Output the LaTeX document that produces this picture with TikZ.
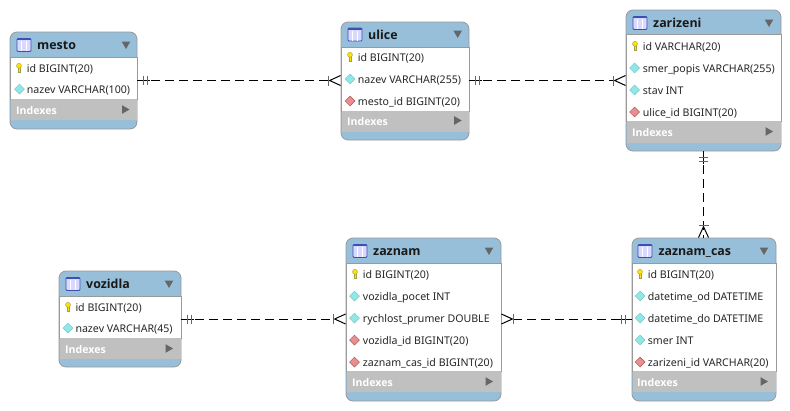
\documentclass[tikz,border=0pt]{standalone}
\usepackage{fontspec}
\setmainfont{Noto Sans}
\newfontfamily\boldface{Open Sans}
\usetikzlibrary{shapes,shapes.geometric}
\definecolor{hdblue}{HTML}{97BFD9}
\definecolor{idxgray}{HTML}{C0C0C0}
\definecolor{tblline}{HTML}{9A9A9A}
\definecolor{markgray}{HTML}{666666}
\definecolor{colcyan}{HTML}{8FE8E8}
\definecolor{colred}{HTML}{E88F8F}
\definecolor{iconblue}{HTML}{3C50B4}
\tikzset{
  tbl/.style={draw=tblline,fill=hdblue,rounded corners=7pt,line width=.8pt,inner sep=0pt},
  rowsbox/.style={draw=tblline,fill=white,line width=.8pt,inner sep=0pt},
  idxbox/.style={draw=none,fill=idxgray,inner sep=0pt},
  title/.style={anchor=west,inner sep=0pt,text height=10pt,text depth=2pt,font=\boldface\fontsize{12.4}{14}\selectfont\bfseries,text=black!90},
  col/.style={anchor=west,inner sep=0pt,text height=10pt,text depth=2pt,font=\fontsize{10.6}{12}\selectfont,text=black!85},
  idx/.style={anchor=west,inner sep=0pt,text height=10pt,text depth=2pt,font=\boldface\fontsize{10.6}{12}\selectfont\bfseries,text=white},
  plain/.style={diamond,fill=colcyan,draw=teal!50,line width=.5pt,inner sep=0pt,minimum size=10pt},
  fk/.style={diamond,fill=colred,draw=red!40!gray,line width=.5pt,inner sep=0pt,minimum size=10pt},
  hdarrow/.style={regular polygon,regular polygon sides=3,shape border rotate=180,fill=markgray,inner sep=0pt,minimum size=10pt},
  idxarrow/.style={regular polygon,regular polygon sides=3,shape border rotate=-90,fill=markgray,inner sep=0pt,minimum size=10pt},
  rel/.style={line width=1pt,dash pattern=on 9pt off 5pt},
  keyicon/.pic={
    \fill[yellow!85!orange,draw=yellow!60!black,line width=.4pt] (-1.2,-1) -- (-1.2,4.5) -- (1.2,4.5) -- (1.2,-1) -- cycle;
    \fill[yellow!85!orange,draw=yellow!60!black,line width=.4pt] (0,-2.2) circle (2.5);
  },
  tblicon/.pic={
    \draw[iconblue,fill=blue!15,line width=.8pt,rounded corners=1pt] (-7,-6.5) rectangle (7,6.5);
    \fill[iconblue] (-7,-6.5) rectangle (7,-5);
    \draw[white,line width=.8pt] (-2.5,-4) -- (-2.5,6) (2.5,-4) -- (2.5,6);
  },
  onemark/.pic={
    \draw[line width=1pt] (0,0) -- (13,0);
    \draw[markgray,line width=1.3pt] (6,-4.5) -- (6,4.5) (10,-4.5) -- (10,4.5);
  },
  crowmark/.pic={
    \draw[line width=1pt] (0,-5) -- (11,0) -- (0,5);
    \draw[markgray,line width=1.5pt] (12,-5) -- (12,5);
  }
}
\begin{document}
\begin{tikzpicture}[x=1pt,y=-1pt]
\useasboundingbox (0,0) rectangle (790,410);
% mesto
\node[tbl,minimum width=127pt,minimum height=97pt] (mesto) at (73.5,80.5) {};
\node[rowsbox,minimum width=127pt,minimum height=42pt] (mr) at (73.5,78) {};
\node[idxbox,minimum width=126pt,minimum height=21pt] (mx) at (73.5,109.5) {};
\pic at (24,45) {tblicon};
\node[title] (mt) at (37,45.5) {mesto};
\node[hdarrow] (ma) at (126,44) {};
\pic at (19,68) {keyicon};
\node[col] (m1) at (26.7,68) {id BIGINT(20)};
\node[plain] (md) at (19.5,89) {};
\node[col] (m2) at (26.7,89.5) {nazev VARCHAR(100)};
\node[idx] (mi) at (16,110) {Indexes};
\node[idxarrow] (mb) at (124.5,109.5) {};
% ulice
\node[tbl,minimum width=128pt,minimum height=118pt] (ulice) at (405,81) {};
\node[rowsbox,minimum width=128pt,minimum height=64pt] (ur) at (405,79) {};
\node[idxbox,minimum width=127pt,minimum height=21pt] (ux) at (405,121.5) {};
\pic at (355,34.5) {tblicon};
\node[title] (ut) at (368,35) {ulice};
\node[hdarrow] (ua) at (457.7,33) {};
\pic at (350,57) {keyicon};
\node[col] (u1) at (357.7,57) {id BIGINT(20)};
\node[plain] (ud1) at (350,79) {};
\node[col] (u2) at (357.7,79) {nazev VARCHAR(255)};
\node[fk] (ud2) at (350,101) {};
\node[col] (u3) at (357.7,101) {mesto\_id BIGINT(20)};
\node[idx] (ui) at (347,121) {Indexes};
\node[idxarrow] (ub) at (456.7,120.5) {};
% zarizeni
\node[tbl,minimum width=155pt,minimum height=141pt] (zarizeni) at (703.5,80.5) {};
\node[rowsbox,minimum width=155pt,minimum height=87pt] (zr) at (703.5,77.5) {};
\node[idxbox,minimum width=154pt,minimum height=22pt] (zx) at (703.5,132) {};
\pic at (640,23) {tblicon};
\node[title] (zt) at (653,23.5) {zarizeni};
\node[hdarrow] (za) at (769,22) {};
\pic at (635,46) {keyicon};
\node[col] (z1) at (642.7,46) {id VARCHAR(20)};
\node[plain] (zd1) at (634.5,68) {};
\node[col] (z2) at (642.7,68) {smer\_popis VARCHAR(255)};
\node[plain] (zd2) at (634.5,90) {};
\node[col] (z3) at (642.7,90) {stav INT};
\node[fk] (zd3) at (634.5,112) {};
\node[col] (z4) at (642.7,112) {ulice\_id BIGINT(20)};
\node[idx] (zi) at (632,132) {Indexes};
\node[idxarrow] (zb) at (768,131.5) {};
% vozidla
\node[tbl,minimum width=122pt,minimum height=96pt] (vozidla) at (120,319) {};
\node[rowsbox,minimum width=122pt,minimum height=42pt] (vr) at (120,317) {};
\node[idxbox,minimum width=121pt,minimum height=21pt] (vx) at (120,348.5) {};
\pic at (73,284) {tblicon};
\node[title] (vt) at (86,284.5) {vozidla};
\node[hdarrow] (va) at (169,283) {};
\pic at (68,307) {keyicon};
\node[col] (v1) at (75.3,307) {id BIGINT(20)};
\node[plain] (vd) at (68,328) {};
\node[col] (v2) at (75.3,328.5) {nazev VARCHAR(45)};
\node[idx] (vi) at (65,349) {Indexes};
\node[idxarrow] (vb) at (168,348.5) {};
% zaznam
\node[tbl,minimum width=155pt,minimum height=163pt] (zaznam) at (423.5,319.5) {};
\node[rowsbox,minimum width=155pt,minimum height=108pt] (nr) at (423.5,317) {};
\node[idxbox,minimum width=154pt,minimum height=21pt] (nx) at (423.5,381.5) {};
\pic at (360,251) {tblicon};
\node[title] (nt) at (373,251.5) {zaznam};
\node[hdarrow] (na) at (489,250) {};
\pic at (355,274) {keyicon};
\node[col] (n1) at (362.7,274) {id BIGINT(20)};
\node[plain] (nd1) at (354.5,296) {};
\node[col] (n2) at (362.7,296) {vozidla\_pocet INT};
\node[plain] (nd2) at (354.5,318) {};
\node[col] (n3) at (362.7,318) {rychlost\_prumer DOUBLE};
\node[fk] (nd3) at (354.5,340) {};
\node[col] (n4) at (362.7,340) {vozidla\_id BIGINT(20)};
\node[fk] (nd4) at (354.5,362) {};
\node[col] (n5) at (362.7,362) {zaznam\_cas\_id BIGINT(20)};
\node[idx] (ni) at (352,382) {Indexes};
\node[idxarrow] (nb) at (488,381.5) {};
% zaznam_cas
\node[tbl,minimum width=144pt,minimum height=163pt] (cas) at (704,319.5) {};
\node[rowsbox,minimum width=144pt,minimum height=108pt] (cr) at (704,317) {};
\node[idxbox,minimum width=143pt,minimum height=21pt] (cx) at (704,381.5) {};
\pic at (645,251) {tblicon};
\node[title] (ct) at (658.3,251.5) {zaznam\_cas};
\node[hdarrow] (ca) at (764,250) {};
\pic at (640,274) {keyicon};
\node[col] (c1) at (647.7,274) {id BIGINT(20)};
\node[plain] (cd1) at (640,296) {};
\node[col] (c2) at (647.7,296) {datetime\_od DATETIME};
\node[plain] (cd2) at (640,318) {};
\node[col] (c3) at (647.7,318) {datetime\_do DATETIME};
\node[plain] (cd3) at (640,340) {};
\node[col] (c4) at (647.7,340) {smer INT};
\node[fk] (cd4) at (640,362) {};
\node[col] (c5) at (647.7,362) {zarizeni\_id VARCHAR(20)};
\node[idx] (ci) at (637,382) {Indexes};
\node[idxarrow] (cb) at (763,381.5) {};
%
\draw[rel,shorten >=12pt] (mesto.east) -- (ulice.west |- mesto.east);
\pic at (mesto.east) {onemark};
\pic[rotate=180] at (ulice.west |- mesto.east) {crowmark};
\draw[rel,shorten >=12pt] (ulice.east |- zarizeni.west) -- (zarizeni.west);
\pic at (ulice.east |- zarizeni.west) {onemark};
\pic[rotate=180] at (zarizeni.west) {crowmark};
\draw[rel] (zarizeni.south) -- (cas.north -| zarizeni.south);
\pic[rotate=-90] at (zarizeni.south) {onemark};
\pic[rotate=90] at (cas.north -| zarizeni.south) {crowmark};
\draw[rel,shorten >=12pt] (vozidla.east) -- (zaznam.west |- vozidla.east);
\pic at (vozidla.east) {onemark};
\pic[rotate=180] at (zaznam.west |- vozidla.east) {crowmark};
\draw[rel,shorten <=12pt] (zaznam.east |- vozidla.east) -- (cas.west |- vozidla.east);
\pic at (zaznam.east |- vozidla.east) {crowmark};
\pic[rotate=180] at (cas.west |- vozidla.east) {onemark};
\end{tikzpicture}
\end{document}
